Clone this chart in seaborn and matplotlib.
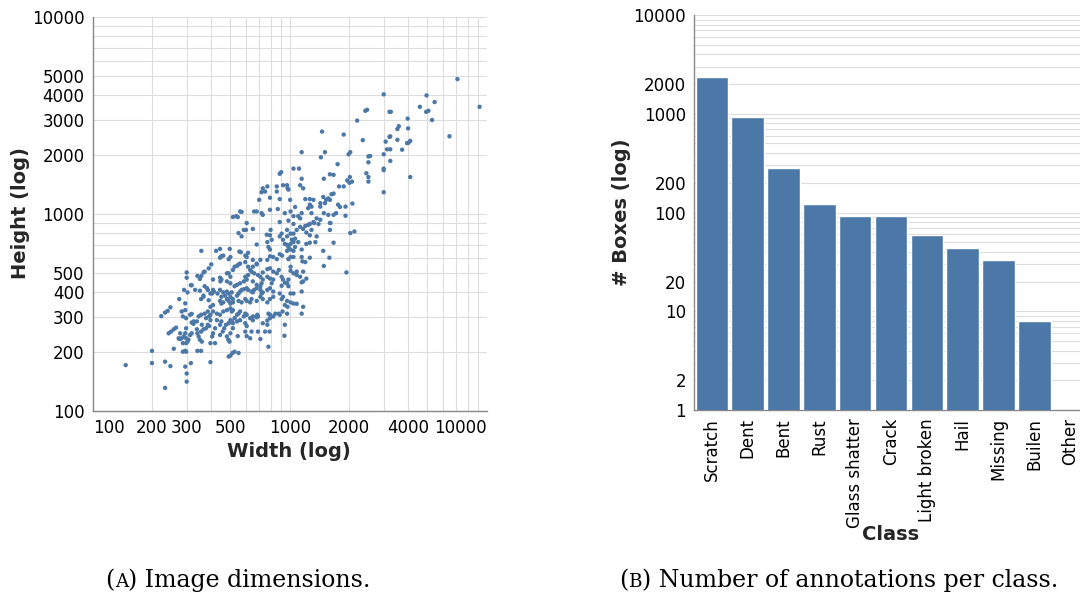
import matplotlib
matplotlib.use("Agg")
import matplotlib.pyplot as plt
import seaborn as sns
import pandas as pd
from matplotlib.ticker import NullLocator
from matplotlib.offsetbox import TextArea, HPacker, AnnotationBbox

# ---------------- data: image dimensions (width, height) in pixels ----------------
dims_very_large = [
    (7100, 4840), (4950, 4000), (3000, 4050), (4580, 3500), (9200, 3500), (4930, 3300),
    (5060, 3340), (5440, 3700), (3210, 3300), (3260, 3300), (2420, 3340), (2470, 3380),
    (2200, 2980), (5280, 3000), (6470, 2480), (3580, 2790), (3520, 2700), (3970, 3050),
    (3990, 2720), (3520, 2380), (3210, 2460), (3240, 2480), (1880, 2530), (1460, 2620),
    (2350, 2370), (3070, 2330), (3240, 2130), (3120, 2130), (3000, 2010), (3720, 2120),
    (4010, 2300), (4090, 2350), (3940, 2290), (1150, 2060), (1510, 2060), (1440, 1940),
    (1990, 2010), (2030, 2060), (2560, 1970), (2510, 1960), (2510, 1830), (3240, 1860),
    (1750, 1790), (3000, 1700), (3000, 1670), (4090, 1540), (2450, 1610), (2510, 1460),
    (2510, 1540), (3000, 1290), (1045, 1700), (1115, 1700), (905, 1630), (890, 1600),
]
dims_large = [
    (1490, 1510), (1600, 1590), (1670, 1580), (2020, 1540), (2010, 1440), (1880, 1380),
    (1960, 1480), (2070, 1460), (1780, 1380), (1670, 1270), (1630, 1260), (1570, 1200),
    (1530, 1180), (1480, 1220), (1510, 1135), (1430, 1090), (1600, 1180), (1150, 1510),
    (1130, 1400), (925, 1400), (970, 1400), (860, 1300), (860, 1380), (770, 1380),
    (750, 1300), (730, 1350), (720, 1290), (794, 1210), (890, 1190), (975, 1350),
    (985, 1330), (1200, 1190), (1920, 1090), (1760, 1115), (1800, 1085), (2080, 1130),
    (1320, 1180), (680, 1030), (700, 1180), (1240, 1070), (1065, 1085), (1005, 1180),
    (1265, 1115), (1430, 1135), (1170, 1350), (1265, 1190), (1940, 505),
]
dims_around_1000 = [
    (560, 1030), (570, 1025), (660, 1030), (730, 990), (720, 1010), (794, 1050),
    (870, 1060), (945, 1010), (890, 910), (1010, 1030), (985, 925), (1045, 975),
    (1045, 890), (1105, 975), (1130, 950), (1150, 1010), (1290, 1090), (1290, 1010),
    (1370, 950), (1430, 935), (1490, 1010), (1570, 990), (1600, 900), (1670, 990),
    (1720, 1010), (1920, 980), (2030, 800), (2130, 815), (535, 975), (545, 965),
    (515, 965), (605, 900), (600, 830), (585, 830), (550, 800), (650, 840),
    (800, 830), (765, 785), (794, 780), (890, 770), (910, 795), (970, 770),
    (970, 830), (1010, 795), (1045, 795), (1085, 830), (1130, 860), (1170, 840),
    (1200, 870), (1240, 880), (1265, 890), (1320, 910), (1215, 805), (1290, 830),
    (1330, 900), (1400, 890), (1610, 900), (1600, 830),
]
dims_around_650 = [
    (570, 770), (680, 700), (770, 720), (780, 680), (794, 660), (810, 740),
    (925, 740), (945, 705), (970, 697), (985, 680), (1010, 705), (1025, 740),
    (1045, 720), (1065, 750), (970, 650), (1010, 660), (1045, 650), (1065, 680),
    (1105, 720), (1150, 660), (1215, 705), (1265, 715), (1350, 720), (1370, 770),
    (1265, 780), (1150, 605), (1265, 600), (1480, 650), (1670, 715), (1590, 600),
    (1490, 545), (1160, 575), (1200, 570), (1045, 605), (1010, 605), (985, 590),
    (915, 615), (890, 625), (860, 590), (825, 605), (794, 610), (770, 585),
    (710, 585), (680, 560), (650, 585), (605, 605), (595, 615), (615, 635),
    (565, 640), (555, 645), (356, 650), (423, 650), (443, 665), (460, 615),
    (496, 665), (490, 590), (443, 600), (450, 610), (500, 605),
]
dims_around_480 = [
    (400, 555), (388, 530), (370, 510), (365, 505), (350, 468), (356, 485),
    (340, 485), (300, 505), (300, 475), (318, 435), (408, 465), (443, 475),
    (445, 455), (450, 465), (480, 500), (490, 500), (500, 480), (515, 520),
    (525, 540), (540, 545), (550, 555), (560, 560), (595, 570), (615, 540),
    (630, 520), (650, 540), (680, 555), (640, 510), (615, 490), (595, 480),
    (605, 465), (585, 455), (560, 445), (540, 437), (525, 430), (500, 445),
    (480, 455), (660, 500), (690, 490), (710, 480), (730, 505), (770, 525),
    (794, 530), (825, 510), (860, 500), (880, 520), (770, 480), (794, 470),
    (810, 445), (825, 465), (730, 465), (720, 445), (680, 437), (650, 455),
    (710, 430), (910, 480), (925, 465), (945, 448), (970, 445), (985, 465),
    (1010, 540), (1010, 515), (1045, 500), (1085, 510), (1130, 480), (1170, 510),
    (1215, 470), (1170, 455), (1150, 450), (1085, 490), (985, 430), (910, 432),
]
dims_around_350 = [
    (291, 412), (303, 400), (315, 435), (331, 412), (350, 408), (370, 430),
    (380, 420), (384, 412), (396, 395), (408, 412), (355, 370), (365, 380),
    (365, 385), (388, 365), (404, 395), (412, 404), (430, 395), (443, 412),
    (450, 380), (460, 400), (470, 385), (480, 404), (490, 395), (500, 380),
    (508, 400), (515, 370), (540, 385), (550, 395), (560, 404), (570, 412),
    (585, 415), (605, 420), (615, 412), (640, 404), (650, 400), (660, 412),
    (680, 420), (710, 412), (720, 395), (730, 400), (770, 412), (794, 420),
    (825, 404), (443, 362), (450, 351), (460, 356), (480, 370), (490, 362),
    (500, 351), (515, 356), (550, 362), (570, 356), (595, 370), (605, 362),
    (630, 356), (640, 370), (680, 362), (710, 380), (730, 370), (770, 356),
    (794, 370), (825, 380), (890, 395), (910, 370), (925, 380), (970, 362),
    (1010, 395), (1045, 395), (1150, 404), (1045, 351), (1085, 350), (1170, 338),
    (1150, 312), (1010, 356), (945, 345), (975, 338), (920, 320), (880, 312),
    (825, 302), (794, 308), (780, 312), (690, 302), (685, 308), (675, 302),
    (650, 302), (605, 308), (595, 312), (560, 320), (550, 312), (540, 308),
    (515, 325), (508, 320), (500, 332), (480, 325), (460, 320), (443, 308),
    (427, 312), (408, 320), (408, 345), (396, 338), (384, 320), (370, 312),
    (376, 296), (390, 302), (396, 308), (283, 320), (295, 325), (287, 302),
    (298, 296), (312, 308), (318, 311), (325, 285), (338, 285), (345, 302),
    (355, 308), (358, 274), (365, 260), (355, 253), (338, 260),
]
dims_around_250 = [
    (318, 281), (325, 277), (298, 263), (295, 248), (290, 239), (283, 234),
    (278, 232), (278, 248), (273, 234), (298, 234), (306, 230), (312, 243),
    (318, 248), (287, 221), (298, 221), (303, 225), (295, 202), (298, 200),
    (287, 200), (340, 248), (345, 239), (350, 230), (358, 225), (376, 263),
    (384, 274), (390, 270), (396, 289), (404, 239), (408, 248), (418, 221),
    (443, 243), (457, 253), (465, 263), (475, 274), (490, 279), (500, 289),
    (508, 285), (515, 279), (515, 263), (443, 274), (450, 285), (427, 289),
    (418, 263), (488, 230), (495, 225), (480, 239), (500, 248), (525, 296),
    (540, 285), (560, 289), (585, 302), (595, 279), (605, 270), (630, 296),
    (650, 289), (680, 299), (730, 279), (770, 288), (794, 296), (845, 312),
    (890, 308), (945, 274), (970, 312), (595, 253), (640, 253), (690, 253),
    (750, 253), (790, 253), (770, 274), (545, 240), (605, 240), (630, 234),
    (710, 232), (940, 241), (780, 212), (340, 202), (355, 202), (396, 221),
    (512, 197), (525, 200), (550, 197), (490, 189), (500, 191),
]
dims_small = [
    (147, 171), (200, 202), (200, 175), (233, 178), (233, 131), (248, 169),
    (223, 303), (233, 316), (240, 322), (248, 336), (243, 248), (250, 253),
    (258, 260), (265, 265), (258, 207), (275, 370), (295, 352), (295, 168),
    (300, 141), (300, 155), (315, 175), (396, 177), (275, 232),
]

scatter_ticks = [m * 10 ** e for e in (2, 3) for m in range(1, 10)] + [10000]
scatter_x_labels = [100, 200, 300, 500, 1000, 2000, 4000, 10000]
scatter_y_labels = [100, 200, 300, 400, 500, 1000, 2000, 3000, 4000, 5000, 10000]

# ---------------- data: number of boxes per class ----------------
classes = ["Scratch", "Dent", "Bent", "Rust", "Glass shatter", "Crack",
           "Light broken", "Hail", "Missing", "Builen", "Other"]
box_counts = [2350, 925, 285, 122, 92, 92, 59, 44, 33, 8, 0]

bar_ticks = [m * 10 ** e for e in range(0, 4) for m in range(1, 10)] + [10000]
bar_y_labels = [1, 2, 10, 20, 100, 200, 1000, 2000, 10000]

# ---------------- style ----------------
sns.set_style("white")
plt.rcParams['font.family'] = ['DejaVu Sans']

BLUE = "#4c78a8"
GRID = "#dddddd"
AXIS = "#888888"
TICK_FS = 12
TITLE_FS = 14
SERIF = ['DejaVu Serif']
CAP_FS = 17

fig = plt.figure(figsize=(10.8, 5.99), dpi=100)
ax1 = fig.add_axes([92.7 / 1080, 1 - 411 / 599, 394 / 1080, 394 / 599])
ax2 = fig.add_axes([694 / 1080, 1 - 410 / 599, 394 / 1080, 395 / 599])

all_dims = (dims_very_large + dims_large + dims_around_1000 + dims_around_650 +
            dims_around_480 + dims_around_350 + dims_around_250 + dims_small)
dims_df = pd.DataFrame(all_dims, columns=["Width", "Height"])

sns.scatterplot(data=dims_df, x="Width", y="Height", ax=ax1, color=BLUE,
                s=10, edgecolor="none", linewidth=0, zorder=3, clip_on=False)
ax1.set_xscale("log")
ax1.set_yscale("log")
ax1.set_xlim(100, 10000)
ax1.set_ylim(100, 10000)


def fmt_labels(ticks, shown):
    return [str(int(t)) if t in shown else "" for t in ticks]


ax1.set_xticks(scatter_ticks, fmt_labels(scatter_ticks, scatter_x_labels))
ax1.set_yticks(scatter_ticks, fmt_labels(scatter_ticks, scatter_y_labels))
ax1.xaxis.set_minor_locator(NullLocator())
ax1.yaxis.set_minor_locator(NullLocator())
for lab in ax1.get_xticklabels():
    if lab.get_text() == "100":
        lab.set_ha("left")
    elif lab.get_text() == "10000":
        lab.set_ha("right")

bar_df = pd.DataFrame({"Class": classes, "Boxes": box_counts})
sns.barplot(data=bar_df, x="Class", y="Boxes", ax=ax2, color=BLUE,
            saturation=1, width=0.91, order=classes, zorder=3)
ax2.set_yscale("log")
ax2.set_ylim(1, 10000)
ax2.set_xlim(-0.5, len(classes) - 0.5)
ax2.set_yticks(bar_ticks, fmt_labels(bar_ticks, bar_y_labels))
ax2.yaxis.set_minor_locator(NullLocator())
ax2.set_xticks(range(len(classes)), classes, rotation=90)

for ax in (ax1, ax2):
    ax.set_axisbelow(True)
    for side in ("top", "right"):
        ax.spines[side].set_visible(False)
    for side in ("left", "bottom"):
        ax.spines[side].set_color(AXIS)
        ax.spines[side].set_linewidth(1.0)
    ax.tick_params(axis="both", which="major", direction="out", length=3.8,
                   width=0.8, color=AXIS, labelsize=TICK_FS, labelcolor="black",
                   pad=2)
    ax.grid(True, which="major", color=GRID, linewidth=0.8)
    ax.set_facecolor("white")

ax2.xaxis.grid(False)

ax1.set_xlabel("Width (log)", fontsize=TITLE_FS, fontweight="bold")
ax1.set_ylabel("Height (log)", fontsize=TITLE_FS, fontweight="bold")
ax2.set_xlabel("Class", fontsize=TITLE_FS, fontweight="bold")
ax2.set_ylabel("# Boxes (log)", fontsize=TITLE_FS, fontweight="bold")
for ax in (ax1, ax2):
    ax.xaxis.label.set_va("center")
    ax.yaxis.label.set_va("center")
ax1.xaxis.set_label_coords(0.498, -0.104)
ax1.yaxis.set_label_coords(-0.182, 0.5025)
ax2.xaxis.set_label_coords(0.5, -0.314)
ax2.yaxis.set_label_coords(-0.1835, 0.5)


def caption(letter, rest, x, y):
    parts = [TextArea("(", textprops=dict(family=SERIF, size=CAP_FS, color="black")),
             TextArea(letter, textprops=dict(family=SERIF, size=CAP_FS * 0.78, color="black")),
             TextArea(")" + rest, textprops=dict(family=SERIF, size=CAP_FS, color="black"))]
    box = HPacker(children=parts, align="baseline", pad=0, sep=0)
    ab = AnnotationBbox(box, (x, y), xycoords="figure fraction", frameon=False,
                        box_alignment=(0.5, 0.5), pad=0)
    fig.add_artist(ab)


caption("A", " Image dimensions.", 238 / 1080, 1 - 580 / 599)
caption("B", " Number of annotations per class.", 839 / 1080, 1 - 580 / 599)

fig.savefig("out.png", dpi=100, facecolor="white")
